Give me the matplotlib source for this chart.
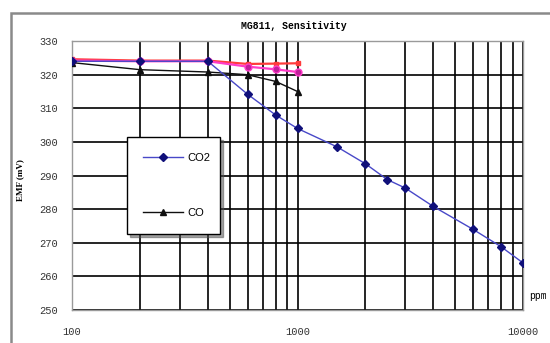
import matplotlib
matplotlib.use("Agg")
import matplotlib.pyplot as plt
from matplotlib.patches import Rectangle

# data
co2_ppm = [100, 200, 400, 600, 800, 1000, 1500, 2000, 2500, 3000, 4000, 6000, 8000, 10000]
co2_emf = [324, 324, 324, 314.2, 308, 304, 298.5, 293.5, 288.8, 286.3, 280.8, 274, 268.8, 264]
co_ppm = [100, 200, 400, 600, 800, 1000]
co_emf = [323.6, 321.5, 320.8, 320, 318, 315]
red_ppm = [100, 200, 400, 600, 800, 1000]
red_emf = [324.6, 324.2, 324.2, 323.2, 323.3, 323.4]
pink_ppm = [100, 200, 400, 600, 800, 1000]
pink_emf = [324.2, 324, 324, 322.4, 321.6, 320.8]

fig = plt.figure(figsize=(5.5, 3.43), dpi=100)
fig.patches.append(Rectangle((0.02, -0.02), 1.0, 0.982, transform=fig.transFigure,
                             fill=False, edgecolor="#8a8a8a", linewidth=1.8))
ax = fig.add_axes([0.131, 0.0962, 0.82, 0.784])

ax.plot(red_ppm, red_emf, color="#ff3b3b", lw=1.6, marker="s", ms=3.5, zorder=3)
ax.plot(pink_ppm, pink_emf, color="#ff3cc8", lw=1.6, marker="o", ms=5, mfc="#c0209a", zorder=3)
l_co, = ax.plot(co_ppm, co_emf, color="#101010", lw=1.0, marker="^", ms=5, zorder=4, label="CO")
l_co2, = ax.plot(co2_ppm, co2_emf, color="#4848c8", lw=1.0, marker="D", ms=4.5,
                 mfc="#10107a", mec="#10107a", zorder=5, label="CO2")

ax.set_xscale("log")
ax.set_xlim(100, 10000)
ax.set_ylim(250, 330)
ax.set_yticks(range(250, 331, 10))
ax.set_xticks([100, 1000, 10000])
ax.set_xticklabels(["100", "1000", "10000"])
ax.tick_params(which="both", length=0, labelsize=7.5, colors="#333333")
ax.tick_params(axis="x", pad=12)
ax.tick_params(axis="y", pad=10)
for lab in ax.get_xticklabels() + ax.get_yticklabels():
    lab.set_family("Liberation Mono")
ax.grid(True, which="both", axis="x", color="black", lw=1.2)
ax.grid(True, which="major", axis="y", color="black", lw=1.2)
for s in ax.spines.values():
    s.set_color("#9a9a9a")
    s.set_linewidth(1.0)

fig.text(0.535, 0.925, "MG811, Sensitivity", ha="center", va="center",
         fontsize=7, family="Liberation Mono", fontweight="bold")
fig.text(0.037, 0.475, "EMF (mV)", rotation=90, ha="center", va="center",
         fontsize=6.5, family="Liberation Serif", fontweight="bold")
fig.text(0.963, 0.137, "ppm", ha="left", va="center", fontsize=7, family="Liberation Mono")

leg = ax.legend([l_co2, l_co], ["CO2", "CO"], loc="upper left",
                bbox_to_anchor=(0.122, 0.2565, 0.206, 0.3865), mode="expand",
                fancybox=False, shadow=True, framealpha=1, edgecolor="black",
                fontsize=8, labelspacing=4.0, borderpad=1.45, handlelength=3.6,
                handletextpad=0.4, borderaxespad=0)
leg.get_frame().set_linewidth(1.0)
for t in leg.get_texts():
    t.set_family("Liberation Sans")

fig.savefig("out.png", dpi=100)
